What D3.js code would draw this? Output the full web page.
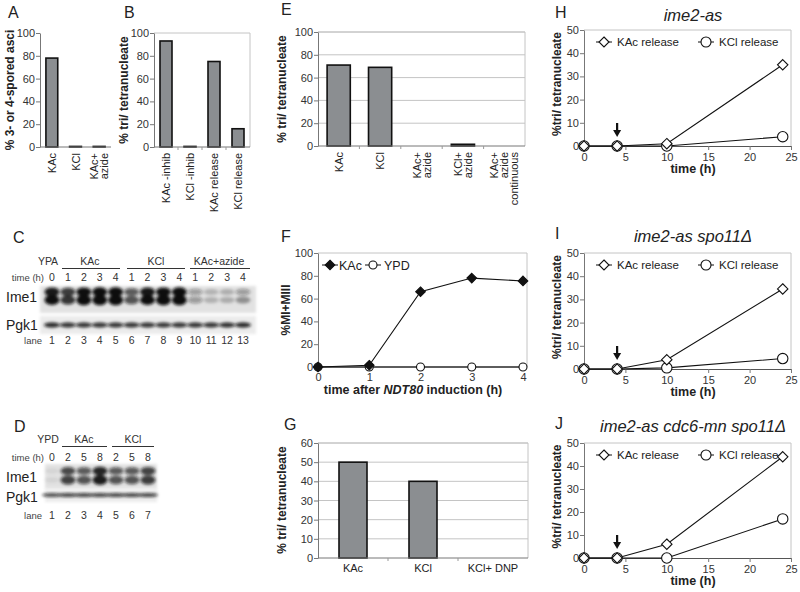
<!DOCTYPE html>
<html><head><meta charset="utf-8">
<script src="https://cdn.jsdelivr.net/npm/d3@7"></script>
<style>body{margin:0;background:#fff}svg{display:block;font-family:"Liberation Sans",Arial,sans-serif}</style>
</head><body><svg id="c" width="800" height="592"></svg>
<script>
// ---------------- data ----------------
const catsA = ["KAc", "KCl", "KAc+\nazide"];
const valsA = [78, 0.5, 0.5];
const catsB = ["KAc -inhib", "KCl -inhib", "KAc release", "KCl release"];
const valsB = [93, 0.5, 75, 16];
const catsE = ["KAc", "KCl", "KAc+\nazide", "KCl+\nazide", "KAc+\nazide\ncontinuous"];
const valsE = [71, 69, 0, 1.5, 0];
const catsG = ["KAc", "KCl", "KCl+ DNP"];
const valsG = [50, 40, 0];
const ticks100 = [0, 20, 40, 60, 80, 100];
const ticks60 = [0, 10, 20, 30, 40, 50, 60];
const ticks50 = [0, 10, 20, 30, 40, 50];
const timeF = [0, 1, 2, 3, 4];
const kacF = [0, 1.5, 66, 78, 75.5];
const ypdF = [0, 0, 0, 0, 0];
const timeHIJ = [0, 4, 10, 24];
const ticksTime = [0, 5, 10, 15, 20, 25];
const kacH = [0, 0, 1, 35],   kclH = [0, 0, 0, 4];
const kacI = [0, 0, 4, 34.5], kclI = [0, 0, 0.5, 4.5];
const kacJ = [0, 0, 6, 44],   kclJ = [0, 0, 0, 17];
// blots
const blotCGroups = ["YPA", "KAc", "KCl", "KAc+azide"];
const blotCTimes = ["0","1","2","3","4","1","2","3","4","1","2","3","4"];
const blotCLanes = ["1","2","3","4","5","6","7","8","9","10","11","12","13"];
const blotCIme1 = [0.9, 0.75, 0.95, 0.97, 1, 0.62, 0.92, 0.95, 0.97, 0.32, 0.2, 0.22, 0.33];
const blotCPgk1 = [0.9, 0.85, 0.85, 0.85, 0.85, 0.85, 0.85, 0.85, 0.85, 0.85, 0.85, 0.88, 0.9];
const blotDGroups = ["YPD", "KAc", "KCl"];
const blotDTimes = ["0","2","5","8","2","5","8"];
const blotDLanes = ["1","2","3","4","5","6","7"];
const blotDIme1 = [0.06, 0.7, 0.62, 0.85, 0.62, 0.62, 0.72];
const blotDPgk1 = [0.8, 0.85, 0.85, 0.85, 0.85, 0.85, 0.85];

// ---------------- helpers ----------------
const svg = d3.select("#c");
const FONT = '"Liberation Sans", Arial, sans-serif';
const defs = svg.append("defs");
defs.append("filter").attr("id","blur").attr("x","-50%").attr("y","-50%").attr("width","200%").attr("height","200%")
  .append("feGaussianBlur").attr("stdDeviation", 1.7);

function txt(x, y, s, o = {}) {
  const t = svg.append("text").attr("x", x).attr("y", y).text(s)
    .attr("font-size", o.size || 11).attr("fill", o.fill || "#222")
    .attr("text-anchor", o.anchor || "start");
  if (o.weight) t.attr("font-weight", o.weight);
  if (o.style) t.attr("font-style", o.style);
  return t;
}
function letter(x, y, s) { txt(x, y, s, { size: 16, fill: "#222" }); }
function ytitle(x, cy, s, size = 12) {
  svg.append("text").attr("transform", `translate(${x},${cy}) rotate(-90)`)
    .attr("text-anchor", "middle").attr("font-size", size).attr("font-weight", "bold")
    .attr("fill", "#222").text(s);
}
function yAxis(y, x0, ticks) {
  const g = svg.append("g").attr("transform", `translate(${x0},0)`)
    .call(d3.axisLeft(y).tickValues(ticks).tickSize(4).tickSizeOuter(0).tickFormat(d3.format("d")));
  g.select(".domain").attr("stroke", "#777");
  g.selectAll(".tick line").attr("stroke", "#777");
  g.selectAll(".tick text").attr("font-size", 11).attr("fill", "#333").attr("font-family", FONT).attr("x", -5);
}

function barPanel(o) {
  const x = d3.scaleBand().domain(o.cats).range([o.x0, o.x1]).paddingInner(0).paddingOuter(0);
  const y = d3.scaleLinear().domain([0, o.max]).range([o.yb, o.yt]);
  if (o.grid) {
    svg.append("g").selectAll("line").data(o.ticks.filter(t => t > 0)).join("line")
      .attr("x1", o.x0).attr("x2", o.x1).attr("y1", d => y(d)).attr("y2", d => y(d))
      .attr("stroke", "#c4c4c4").attr("stroke-width", 1);
  }
  if (o.frame) {
    svg.append("path").attr("d", `M${o.x0},${y(o.max)}H${o.x1}V${o.yb}`)
      .attr("fill", "none").attr("stroke", "#c4c4c4");
  }
  yAxis(y, o.x0, o.ticks);
  const bw = x.bandwidth() * o.ratio;
  svg.append("g").selectAll("rect").data(o.vals).join("rect")
    .attr("x", (d, i) => x(o.cats[i]) + (x.bandwidth() - bw) / 2)
    .attr("y", d => y(d)).attr("width", bw).attr("height", d => o.yb - y(d))
    .attr("fill", d => d > 0 ? "#8b8e91" : "none")
    .attr("stroke", d => d > 0 ? "#111" : "none").attr("stroke-width", 1.6);
  svg.append("line").attr("x1", o.x0).attr("x2", o.x1).attr("y1", o.yb).attr("y2", o.yb).attr("stroke", "#777");
  if (o.catTicks) {
    svg.append("g").selectAll("line").data(o.cats.slice(1)).join("line")
      .attr("x1", d => x(d)).attr("x2", d => x(d)).attr("y1", o.yb).attr("y2", o.yb + 3).attr("stroke", "#999");
  }
  o.cats.forEach(c => {
    const lines = c.split("\n");
    const cx = x(c) + x.bandwidth() / 2;
    if (o.rot) {
      const lh = 10;
      const t = svg.append("text").attr("transform", `translate(${cx},${o.yb + 6}) rotate(-90)`)
        .attr("text-anchor", "end").attr("font-size", 11).attr("fill", "#222");
      lines.forEach((l, i) => {
        t.append("tspan").attr("x", 0).attr("y", (i - (lines.length - 1) / 2) * lh + 4).text(l);
      });
    } else {
      txt(cx, o.yb + 14, c, { anchor: "middle", size: 11 });
    }
  });
}

function diamond(g, cx, cy, r, fill) {
  g.append("path").attr("d", `M${cx},${cy - r}L${cx + r},${cy}L${cx},${cy + r}L${cx - r},${cy}Z`)
    .attr("fill", fill).attr("stroke", "#111").attr("stroke-width", 1.1);
}
function circ(g, cx, cy, r) {
  g.append("circle").attr("cx", cx).attr("cy", cy).attr("r", r)
    .attr("fill", "#fff").attr("stroke", "#111").attr("stroke-width", 1.1);
}

function linePanel(o) {
  const x = d3.scaleLinear().domain([0, 25]).range([584, 791]);
  const y = d3.scaleLinear().domain([0, 50]).range([o.yb, o.yt]);
  svg.append("path").attr("d", `M584,${o.yt}H791V${o.yb}`).attr("fill", "none").attr("stroke", "#c4c4c4");
  yAxis(y, 584, ticks50);
  const gx = svg.append("g").attr("transform", `translate(0,${o.yb})`)
    .call(d3.axisBottom(x).tickValues(ticksTime).tickSize(4).tickSizeOuter(0));
  gx.select(".domain").attr("stroke", "#555");
  gx.selectAll(".tick line").attr("stroke", "#777");
  gx.selectAll(".tick text").attr("font-size", 11).attr("fill", "#333").attr("font-family", FONT).attr("y", 7);
  const line = d3.line().x((d, i) => x(timeHIJ[i])).y(d => y(d));
  const g = svg.append("g");
  g.append("path").attr("d", line(o.kcl)).attr("fill", "none").attr("stroke", "#111").attr("stroke-width", 1.1);
  g.append("path").attr("d", line(o.kac)).attr("fill", "none").attr("stroke", "#111").attr("stroke-width", 1.1);
  o.kcl.forEach((d, i) => circ(g, x(timeHIJ[i]), y(d), 5.2));
  o.kac.forEach((d, i) => diamond(g, x(timeHIJ[i]), y(d), 5.2, "#fff"));
  const ax = x(4);
  g.append("line").attr("x1", ax).attr("x2", ax).attr("y1", o.yb - 23).attr("y2", o.yb - 15)
    .attr("stroke", "#111").attr("stroke-width", 2.2);
  g.append("path").attr("d", `M${ax - 4},${o.yb - 16}L${ax + 4},${o.yb - 16}L${ax},${o.yb - 9}Z`).attr("fill", "#111");
  const ly = o.yt + 12;
  const lg = svg.append("g");
  lg.append("line").attr("x1", 596).attr("x2", 612).attr("y1", ly).attr("y2", ly).attr("stroke", "#111");
  diamond(lg, 604, ly, 5, "#fff");
  txt(617, ly + 4, "KAc release", { size: 11.5 });
  lg.append("line").attr("x1", 698).attr("x2", 714).attr("y1", ly).attr("y2", ly).attr("stroke", "#111");
  circ(lg, 706, ly, 5);
  txt(719, ly + 4, "KCl release", { size: 11.5 });
  txt(693, o.titleY, o.title, { size: 16.5, style: "italic", anchor: "middle" });
  txt(693, o.yb + 27, "time (h)", { size: 12.5, weight: "bold", anchor: "middle" });
  ytitle(561, (o.yb + o.yt) / 2 - 4, "%tri/ tetranucleate");
  letter(555, o.titleY - 3, o.letter);
}

// ---------------- panels A, B ----------------
letter(8, 18, "A");
barPanel({ cats: catsA, vals: valsA, x0: 40, x1: 111, yb: 147, yt: 33, max: 100, ticks: ticks100, ratio: 0.5, rot: true });
ytitle(14, 90, "% 3- or 4-spored asci");
letter(124, 18, "B");
barPanel({ cats: catsB, vals: valsB, x0: 154, x1: 250, yb: 147, yt: 33, max: 100, ticks: ticks100, ratio: 0.5, rot: true, frame: true, catTicks: true });
ytitle(128, 90, "% tri/ tetranucleate");

// ---------------- panel E ----------------
letter(281, 15, "E");
barPanel({ cats: catsE, vals: valsE, x0: 318, x1: 525, yb: 146, yt: 32, max: 100, ticks: ticks100, ratio: 0.56, rot: true, frame: true, grid: true, catTicks: true });
ytitle(286, 89, "% tri/ tetranucleate");

// ---------------- panel G ----------------
letter(284, 430, "G");
barPanel({ cats: catsG, vals: valsG, x0: 318, x1: 528, yb: 558, yt: 443, max: 60, ticks: ticks60, ratio: 0.4, rot: false, frame: true, grid: true, catTicks: true });
ytitle(286, 500, "% tri/ tetranucleate");

// ---------------- panel F ----------------
(function () {
  letter(281, 242, "F");
  const x = d3.scaleLinear().domain([0, 4]).range([318, 523]);
  const y = d3.scaleLinear().domain([0, 100]).range([367, 253]);
  svg.append("path").attr("d", `M318,253H527V367`).attr("fill", "none").attr("stroke", "#c4c4c4");
  yAxis(y, 318, ticks100);
  const gx = svg.append("g").attr("transform", "translate(0,367)")
    .call(d3.axisBottom(x).tickValues(timeF).tickSize(4).tickSizeOuter(0).tickFormat(d3.format("d")));
  gx.select(".domain").attr("stroke", "#555").attr("d", "M318,0H527");
  gx.selectAll(".tick line").attr("stroke", "#777");
  gx.selectAll(".tick text").attr("font-size", 11).attr("fill", "#333").attr("font-family", FONT).attr("y", 6);
  const g = svg.append("g");
  const line = d3.line().x((d, i) => x(timeF[i])).y(d => y(d));
  g.append("path").attr("d", line(ypdF)).attr("fill", "none").attr("stroke", "#111").attr("stroke-width", 1.1);
  g.append("path").attr("d", line(kacF)).attr("fill", "none").attr("stroke", "#111").attr("stroke-width", 1.1);
  ypdF.forEach((d, i) => circ(g, x(timeF[i]), y(d), 4));
  kacF.forEach((d, i) => diamond(g, x(timeF[i]), y(d), 4.8, "#111"));
  const ly = 265;
  g.append("line").attr("x1", 322).attr("x2", 338).attr("y1", ly).attr("y2", ly).attr("stroke", "#111");
  diamond(g, 330, ly, 4.8, "#111");
  txt(339, ly + 4.5, "KAc", { size: 12.5 });
  g.append("line").attr("x1", 365).attr("x2", 381).attr("y1", ly).attr("y2", ly).attr("stroke", "#111");
  circ(g, 373, ly, 4);
  txt(384, ly + 4.5, "YPD", { size: 12.5 });
  const t = txt(413, 394, "time after ", { size: 12.5, weight: "bold", anchor: "middle" });
  t.append("tspan").attr("font-style", "italic").text("NDT80");
  t.append("tspan").text(" induction (h)");
  ytitle(290, 310, "%MI+MIII");
})();

// ---------------- panels H, I, J ----------------
linePanel({ yb: 146, yt: 30, kac: kacH, kcl: kclH, title: "ime2-as", titleY: 21, letter: "H" });
linePanel({ yb: 369, yt: 253, kac: kacI, kcl: kclI, title: "ime2-as spo11\u0394", titleY: 242, letter: "I" });
linePanel({ yb: 558, yt: 443, kac: kacJ, kcl: kclJ, title: "ime2-as cdc6-mn spo11\u0394", titleY: 432, letter: "J" });

// ---------------- blots ----------------
function blot(o) {
  const lanesX = d3.scalePoint().domain(o.lanes).range(o.laneRange);
  o.groups.forEach((gname, i) => {
    txt(o.headX[i], o.headY, gname, { size: 10.5, anchor: "middle", fill: "#333" });
    if (o.headLines[i]) svg.append("line").attr("x1", o.headLines[i][0]).attr("x2", o.headLines[i][1])
      .attr("y1", o.headY + 3.5).attr("y2", o.headY + 3.5).attr("stroke", "#333").attr("stroke-width", 1);
  });
  txt(44, o.timeY, "time (h)", { size: 9.5, anchor: "end", fill: "#444" });
  o.times.forEach((t, i) => txt(lanesX(o.lanes[i]), o.timeY, t, { size: 10.5, anchor: "middle", fill: "#333" }));
  txt(42, o.laneY, "lane", { size: 9.5, anchor: "end", fill: "#444" });
  o.lanes.forEach(l => txt(lanesX(l), o.laneY, l, { size: 10.5, anchor: "middle", fill: "#333" }));
  txt(6, o.imeY, "Ime1", { size: 14, fill: "#222" });
  txt(6, o.pgkY, "Pgk1", { size: 14, fill: "#222" });
  svg.append("rect").attr("x", o.sx0).attr("y", o.imeS[0]).attr("width", o.sx1 - o.sx0).attr("height", o.imeS[1] - o.imeS[0])
    .attr("fill", "#e2e2e2").attr("filter", "url(#blur)");
  svg.append("rect").attr("x", o.sx0).attr("y", o.pgkS[0]).attr("width", o.sx1 - o.sx0).attr("height", o.pgkS[1] - o.pgkS[0])
    .attr("fill", "#ebebeb").attr("filter", "url(#blur)");
  const gb = svg.append("g").attr("filter", "url(#blur)");
  o.ime.forEach((v, i) => {
    const cx = lanesX(o.lanes[i]);
    gb.append("ellipse").attr("cx", cx).attr("cy", o.band1).attr("rx", o.rx).attr("ry", 2.5 + 2.2 * v)
      .attr("fill", "#111").attr("opacity", Math.min(1, v * 1.05));
    gb.append("ellipse").attr("cx", cx).attr("cy", o.band2).attr("rx", o.rx).attr("ry", 2.5 + 2.8 * v)
      .attr("fill", "#111").attr("opacity", Math.min(1, v * 1.1));
  });
  const gp = svg.append("g").attr("filter", "url(#blur)");
  o.pgk.forEach((v, i) => {
    const cx = lanesX(o.lanes[i]);
    gp.append("ellipse").attr("cx", cx).attr("cy", o.pband).attr("rx", o.prx).attr("ry", o.pry)
      .attr("fill", "#111").attr("opacity", v);
  });
}
letter(13, 243, "C");
blot({
  groups: blotCGroups, headX: [48, 90, 156, 219], headY: 265,
  headLines: [null, [62, 120], [127, 185], [190, 250]],
  lanes: blotCLanes, times: blotCTimes, laneRange: [52, 243],
  timeY: 281, laneY: 344, imeY: 302, pgkY: 330,
  sx0: 40, sx1: 256, imeS: [286, 313], pgkS: [316, 334],
  ime: blotCIme1, band1: 292, band2: 300, rx: 7.5,
  pgk: blotCPgk1, pband: 325, prx: 8, pry: 2.6
});
letter(14, 432, "D");
blot({
  groups: blotDGroups, headX: [48, 84, 133], headY: 443,
  headLines: [null, [62, 107], [112, 154]],
  lanes: blotDLanes, times: blotDTimes, laneRange: [52, 148],
  timeY: 461, laneY: 519, imeY: 482, pgkY: 502,
  sx0: 45, sx1: 157, imeS: [464, 489], pgkS: [489, 502],
  ime: blotDIme1, band1: 471, band2: 480, rx: 7.5,
  pgk: blotDPgk1, pband: 495, prx: 10, pry: 1.8
});
</script></body></html>
